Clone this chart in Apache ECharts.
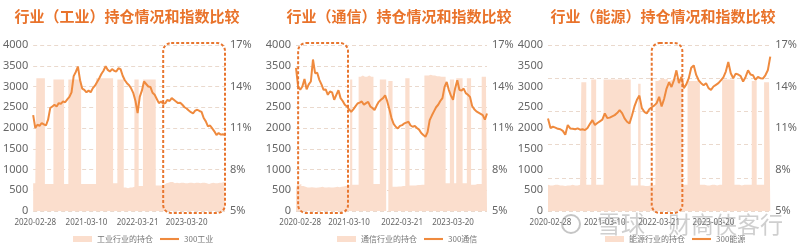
<!DOCTYPE html>
<html><head><meta charset="utf-8">
<script src="https://cdn.jsdelivr.net/npm/echarts@6/dist/echarts.min.js"></script>
<style>html,body{margin:0;padding:0;background:#fff}#c{width:800px;height:247px}</style>
</head><body><div id="c"></div>
<script>
// ---------- data ----------
const titles = ['行业（工业）持仓情况和指数比较', '行业（通信）持仓情况和指数比较', '行业（能源）持仓情况和指数比较'];
const holdNames = ['工业行业的持仓', '通信行业的持仓', '能源行业的持仓'];
const lineNames = ['300工业', '300通信', '300能源'];
const tickLabels = ['2020-02-28', '2021-03-10', '2022-03-21', '2023-03-20'];
const tickIdx1 = [1, 25, 49, 72];
const tickIdx2 = [2, 25, 50, 74];
const tickIdx3 = [1, 23, 45, 67];
const leftTicks = [0, 4000, 500];
const rightTicks = [5, 17, 3];

// index level (left axis)
const line1 = [2310,2000,2080,2050,2120,2090,2060,2200,2480,2520,
  2560,2520,2600,2580,2640,2620,2690,2750,2860,3250,
  3350,3480,3150,2950,2920,2860,2900,2860,2960,3020,
  3110,3200,3300,3380,3490,3400,3360,3420,3380,3360,
  3440,3420,3260,3150,3080,3030,2950,2840,2650,2360,
  2750,2900,3120,3060,3000,2990,2850,2800,2700,2600,
  2640,2580,2600,2680,2650,2720,2680,2640,2600,2610,
  2560,2500,2470,2420,2380,2350,2420,2440,2410,2390,
  2240,2160,2040,2060,1990,1920,1830,1880,1840,1850,1830];
const line2 = [3450,3000,2920,3000,3180,2930,3050,3120,3650,3320,
  3330,3160,3050,2920,2930,2800,2880,2860,2680,2800,
  2910,2720,2650,2560,2520,2450,2390,2450,2520,2590,
  2610,2640,2560,2600,2630,2520,2480,2430,2540,2630,
  2680,2720,2790,2640,2450,2240,2100,2030,1990,2050,
  2070,2110,2130,2150,2060,2030,2050,2000,1960,1880,
  1830,1790,1900,2190,2300,2400,2500,2560,2650,2720,
  2990,3110,2920,2780,2680,2960,3150,2920,2900,2950,
  2840,2800,2750,2530,2450,2400,2370,2340,2310,2200,2350];
const line3 = [2230,2000,2030,2010,1980,1970,1930,1840,2070,1990,
  1980,1970,1990,1960,1970,1950,2000,2100,2190,2070,
  2120,2160,2200,2350,2240,2250,2280,2310,2360,2430,
  2360,2230,2150,2110,2300,2520,2680,2780,2480,2390,
  2350,2450,2500,2540,2600,2750,2520,2700,2950,3100,
  2990,3150,3390,3080,3230,2960,3050,3200,3450,3510,
  3280,3150,3080,3030,3080,2960,2920,3000,3040,3080,
  3150,3220,3360,3590,3320,3200,3310,3290,3250,3120,
  3230,3390,3290,3270,3160,3230,3200,3190,3270,3390,3720];

// holdings in % (right axis)
const hold1 = [7.0,7.0,14.6,14.6,14.6,14.6,6.95,6.95,6.95,6.95,
  14.5,14.5,14.5,14.5,14.5,6.95,6.95,14.5,14.5,14.5,
  14.5,14.5,14.5,6.95,6.95,6.95,6.95,6.95,6.95,6.95,
  14.6,14.6,14.6,14.6,14.6,14.6,14.6,14.6,7.0,7.0,
  14.5,14.5,14.5,6.7,6.65,6.7,6.7,6.75,14.5,14.5,
  6.8,6.8,14.5,14.5,14.5,14.5,14.5,14.5,6.85,6.85,
  6.85,6.9,7.0,7.05,7.1,7.1,7.0,7.05,7.0,7.05,
  7.05,7.0,7.0,7.05,7.05,7.0,7.05,7.05,7.0,7.05,
  7.05,7.0,6.95,7.0,7.05,7.0,7.0,7.05,7.05,7.1,7.1];
const hold2 = [6.65,6.9,6.95,6.8,6.75,6.7,6.7,6.72,6.7,6.68,
  6.7,6.72,6.75,6.7,6.7,6.72,6.7,6.7,6.72,6.75,
  6.72,6.75,6.78,6.8,6.85,6.9,14.5,6.9,6.9,6.9,
  14.7,14.8,14.7,14.7,14.8,14.7,14.7,6.95,6.95,6.95,
  14.5,14.5,14.5,5.0,14.4,14.4,6.75,6.75,6.78,6.78,
  6.8,6.8,14.6,14.6,6.85,6.85,6.85,6.88,6.88,6.9,
  6.9,14.8,14.8,14.85,14.8,14.8,14.75,14.75,14.7,14.7,
  14.7,7.0,7.0,14.5,14.5,7.0,14.6,14.6,14.6,7.0,
  7.0,14.6,14.6,6.9,6.9,6.95,6.95,6.95,14.7,14.7,14.7];
const hold3 = [6.9,6.85,6.85,6.9,6.9,6.85,6.85,6.8,6.85,6.85,
  6.9,6.85,6.85,6.9,14.3,14.3,6.9,6.9,14.5,14.5,
  6.9,6.9,6.9,14.5,14.5,14.5,14.5,14.5,14.5,14.5,
  14.5,14.5,14.5,14.5,6.85,6.85,6.85,14.2,6.85,6.8,
  6.8,6.85,6.85,6.9,14.4,14.5,14.6,14.5,14.6,14.4,
  14.5,14.6,14.5,14.5,14.5,6.9,6.9,14.4,14.4,14.4,
  14.4,14.4,6.9,6.9,6.85,6.85,6.9,6.9,6.85,6.9,
  6.9,14.5,14.5,14.5,14.5,14.5,6.9,6.9,6.85,6.9,
  6.9,6.9,6.9,14.4,14.4,6.9,6.9,6.9,14.3,14.3,14.3];

// highlighted spans (category index ranges)
const boxSpans = [[61, 90], [1, 24.5], [42, 54.4]];

// ---------- chart ----------
const lines = [line1, line2, line3];
const holds = [hold1, hold2, hold3];
const ticks = [tickIdx1, tickIdx2, tickIdx3];
const grids = [
  {left: 31, top: 45, width: 194, height: 166},
  {left: 296, top: 45, width: 191, height: 166},
  {left: 548, top: 45, width: 225, height: 166}
];
const titleX = [127, 399, 663];
const legendLeft = [68, 332, 600];

const ORANGE = '#EF8A3E';
const PEACH = '#FBDECD';
const GRIDC = '#ead9cd';
const LABC = '#666';

const chart = echarts.init(document.getElementById('c'), null, {renderer: 'canvas'});

const xAxes = [], yAxes = [], series = [], legends = [];
for (let g = 0; g < 3; g++) {
  const cats = lines[g].map((_, i) => String(i));
  const tk = ticks[g];
  xAxes.push({
    type: 'category', gridIndex: g, data: cats, boundaryGap: false,
    axisLine: {show: false}, axisTick: {show: false}, splitLine: {show: false},
    axisLabel: {
      interval: (i) => tk.indexOf(i) >= 0,
      formatter: (v, i) => { const k = tk.indexOf(i); return k >= 0 ? tickLabels[k] : ''; },
      fontSize: 8, color: LABC, margin: 8, fontFamily: 'Noto Sans'
    }
  });
  yAxes.push({
    type: 'value', gridIndex: g, position: 'left',
    min: leftTicks[0], max: leftTicks[1], interval: leftTicks[2],
    axisLine: {show: false}, axisTick: {show: false},
    axisLabel: {fontSize: 11, color: LABC, margin: 5, fontFamily: 'Noto Sans', formatter: (v) => String(v)},
    splitLine: {show: g !== 2, lineStyle: {type: [4, 3], color: GRIDC, width: 1}}
  });
  yAxes.push({
    type: 'value', gridIndex: g, position: 'right',
    min: rightTicks[0], max: rightTicks[1], interval: rightTicks[2],
    axisLine: {show: false}, axisTick: {show: false},
    axisLabel: {fontSize: 11, color: LABC, margin: 5, formatter: (v) => v + '%', fontFamily: 'Noto Sans'},
    splitLine: {show: false}
  });
  series.push({
    name: holdNames[g], type: 'line', xAxisIndex: g, yAxisIndex: 2 * g + 1,
    data: holds[g], step: 'middle', symbol: 'none',
    lineStyle: {width: 0, color: PEACH}, itemStyle: {color: PEACH},
    areaStyle: {color: PEACH, opacity: 1}, z: 1
  });
  series.push({
    name: lineNames[g], type: 'line', xAxisIndex: g, yAxisIndex: 2 * g,
    data: lines[g], symbol: 'none',
    lineStyle: {width: 2, color: ORANGE}, itemStyle: {color: ORANGE}, z: 3
  });
  legends.push({
    left: legendLeft[g], top: 230, itemWidth: 19, itemHeight: 6, itemGap: 7,
    textStyle: {fontSize: 8, color: '#777', fontFamily: 'Noto Sans CJK SC'},
    data: [
      {name: holdNames[g], icon: 'rect'},
      {name: lineNames[g], icon: 'path://M0,0H20V2.2H0Z'}
    ],
    selectedMode: false
  });
}
// third panel: gridlines split the height into five equal bands
yAxes.push({
  type: 'value', gridIndex: 2, position: 'left', min: 0, max: 5, interval: 1,
  axisLine: {show: false}, axisTick: {show: false}, axisLabel: {show: false},
  splitLine: {show: true, lineStyle: {type: [4, 3], color: GRIDC, width: 1}}
});

chart.setOption({
  animation: false,
  backgroundColor: '#fff',
  grid: grids,
  xAxis: xAxes,
  yAxis: yAxes,
  legend: legends,
  series: series
});

// ---------- annotations ----------
const graphics = [];
for (let g = 0; g < 3; g++) {
  graphics.push({
    type: 'text', x: titleX[g], y: 16, z: 50,
    style: {text: titles[g], fontSize: 15, fontWeight: 'bold', fontFamily: 'Noto Sans CJK SC',
      fill: '#E9732B', align: 'center', verticalAlign: 'middle'}
  });
  const n = lines[g].length;
  const p0 = chart.convertToPixel({xAxisIndex: g, yAxisIndex: 2 * g}, [0, leftTicks[1]]);
  const p1 = chart.convertToPixel({xAxisIndex: g, yAxisIndex: 2 * g}, [n - 1, leftTicks[0]]);
  const xs = (i) => p0[0] + (p1[0] - p0[0]) * i / (n - 1);
  const x0 = xs(boxSpans[g][0]), x1 = xs(boxSpans[g][1]);
  const y0 = p0[1] - 2, y1 = p1[1] + 2;
  graphics.push({
    type: 'rect', z: 60,
    shape: {x: x0, y: y0, width: x1 - x0, height: y1 - y0, r: 8},
    style: {fill: 'none', stroke: '#E8762F', lineWidth: 2, lineDash: [3, 2]}
  });
}
// watermark
graphics.push({type: 'circle', z: 70, shape: {cx: 571, cy: 224, r: 9},
  style: {fill: 'none', stroke: 'rgba(150,150,150,0.55)', lineWidth: 2}});
graphics.push({type: 'text', z: 70, x: 597, y: 224,
  style: {text: '雪球', fontSize: 24, fontFamily: 'Noto Sans CJK SC', fill: 'rgba(160,160,160,0.5)',
    align: 'left', verticalAlign: 'middle'}});
graphics.push({type: 'text', z: 70, x: 668, y: 224,
  style: {text: '财商侠客行', fontSize: 23, fontFamily: 'Noto Sans CJK SC', fill: 'rgba(160,160,160,0.5)',
    align: 'left', verticalAlign: 'middle'}});
chart.setOption({graphic: graphics});
</script>
</body></html>
